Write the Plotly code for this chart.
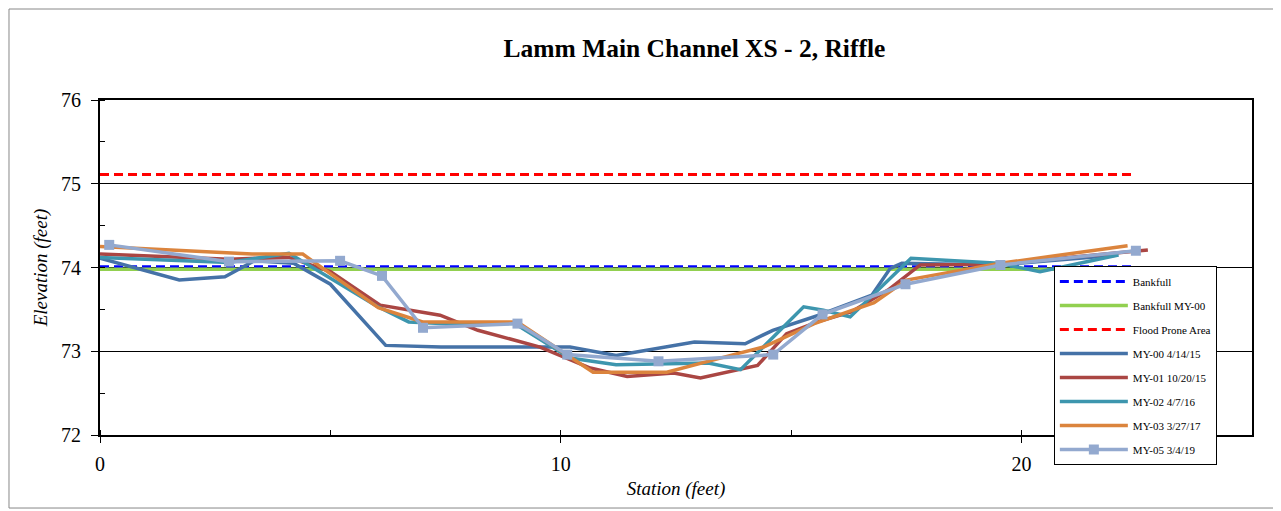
import plotly.graph_objects as go

# ---- data ----
bankfull_x = [0, 22.45]
bankfull_y = [74.01, 74.01]
bankfull_my00_x = [0, 22.45]
bankfull_my00_y = [73.98, 73.98]
flood_x = [0, 22.45]
flood_y = [75.11, 75.11]

my00_x = [0, 1.72, 2.71, 3.35, 4.2, 5.0, 6.2, 7.4, 10.2, 11.2, 12.9, 14.0, 14.6, 15.6, 16.75, 17.15, 17.4, 19.5, 22.1]
my00_y = [74.11, 73.85, 73.89, 74.08, 74.05, 73.80, 73.07, 73.05, 73.05, 72.95, 73.11, 73.09, 73.25, 73.43, 73.67, 73.99, 74.05, 74.03, 74.15]

my01_x = [0, 2.8, 4.1, 5.0, 6.08, 7.38, 8.2, 9.55, 10.64, 11.44, 12.45, 13.03, 14.27, 14.9, 15.57, 16.3, 17.1, 17.8, 19.5, 22.74]
my01_y = [74.16, 74.10, 74.12, 73.95, 73.55, 73.43, 73.25, 73.05, 72.80, 72.70, 72.74, 72.68, 72.83, 73.21, 73.35, 73.47, 73.73, 74.03, 74.04, 74.21]

my02_x = [0, 2.8, 4.1, 6.0, 6.7, 7.4, 9.0, 10.2, 11.2, 12.3, 13.2, 13.9, 15.27, 15.7, 16.28, 17.6, 19.5, 20.4, 22.1]
my02_y = [74.12, 74.06, 74.17, 73.54, 73.35, 73.33, 73.33, 72.92, 72.84, 72.85, 72.86, 72.78, 73.53, 73.49, 73.41, 74.11, 74.05, 73.95, 74.15]

my03_x = [0, 3.3, 4.4, 6.04, 7.0, 9.06, 10.7, 12.3, 13.75, 14.4, 15.5, 16.8, 17.5, 19.54, 22.3]
my03_y = [74.25, 74.16, 74.16, 73.52, 73.35, 73.35, 72.75, 72.75, 72.96, 73.05, 73.33, 73.58, 73.85, 74.05, 74.26]

my05_x = [0.2, 2.8, 5.21, 6.12, 7.01, 9.06, 10.14, 12.12, 14.61, 15.68, 17.48, 19.54, 22.48]
my05_y = [74.27, 74.07, 74.08, 73.90, 73.28, 73.33, 72.96, 72.88, 72.96, 73.44, 73.80, 74.03, 74.20]

names = ["Bankfull", "Bankfull MY-00", "Flood Prone Area",
         "MY-00 4/14/15", "MY-01 10/20/15", "MY-02 4/7/16", "MY-03 3/27/17", "MY-05 3/4/19"]

FONT = "Liberation Serif, Times New Roman, serif"

fig = go.Figure()
fig.add_trace(go.Scatter(x=bankfull_x, y=bankfull_y, mode="lines", name=names[0],
                         line=dict(color="#0000FF", width=3, dash="9px,5px"), legendgroup="a"))
fig.add_trace(go.Scatter(x=bankfull_my00_x, y=bankfull_my00_y, mode="lines", name=names[1],
                         line=dict(color="#92D050", width=3.5), legendgroup="b"))
fig.add_trace(go.Scatter(x=flood_x, y=flood_y, mode="lines", name=names[2],
                         line=dict(color="#FF0000", width=3, dash="9px,5px"), legendgroup="c"))

series = [(my00_x, my00_y, "#4572A7"), (my01_x, my01_y, "#AA4643"),
          (my02_x, my02_y, "#3D96AE"), (my03_x, my03_y, "#DB843D")]
for i, (xs, ys, c) in enumerate(series):
    fig.add_trace(go.Scatter(x=xs, y=ys, mode="lines", name=names[3 + i],
                             line=dict(color=c, width=3.5), legendgroup="g%d" % i))
fig.add_trace(go.Scatter(x=my05_x, y=my05_y, mode="lines+markers", name=names[7],
                         line=dict(color="#93A9CF", width=3.5),
                         marker=dict(symbol="square", size=10, color="#93A9CF"),
                         legendgroup="h"))

fig.update_layout(
    width=1273, height=503,
    margin=dict(l=92, r=29, t=92, b=76),
    paper_bgcolor="white", plot_bgcolor="white",
    font=dict(family=FONT, color="black"),
    title=dict(text="<b>Lamm Main Channel XS - 2, Riffle</b>", font=dict(size=25.5, family=FONT),
               x=0.516, xref="paper", xanchor="center", y=0.92, yanchor="middle"),
    showlegend=True,
    legend=dict(x=0.828, y=0.5045, xanchor="left", yanchor="top",
                bgcolor="white", bordercolor="black", borderwidth=1,
                font=dict(size=11, family=FONT), tracegroupgap=5,
                traceorder="grouped", itemwidth=68),
    shapes=[dict(type="rect", xref="paper", yref="paper",
                 x0=-0.0790, x1=1.0195, y0=-0.218, y1=1.2716,
                 line=dict(color="#888888", width=1), layer="below")],
)
fig.update_xaxes(range=[0, 25], dtick=10, tick0=0, showgrid=False, zeroline=False,
                 showline=True, linecolor="black", linewidth=2, mirror=True,
                 ticks="outside", ticklen=6, tickcolor="black", tickwidth=1,
                 ticklabelstandoff=4,
                 tickfont=dict(size=20, family=FONT),
                 minor=dict(dtick=5, ticks="inside", ticklen=5, tickcolor="black", showgrid=False),
                 title=dict(text="<i>Station (feet)</i>", font=dict(size=19, family=FONT), standoff=8))
fig.update_yaxes(range=[72, 76], dtick=1, tick0=72, showgrid=True, gridcolor="black", gridwidth=1,
                 zeroline=False,
                 showline=True, linecolor="black", linewidth=2, mirror=True,
                 ticks="outside", ticklen=7, tickcolor="black", tickwidth=1,
                 ticklabelstandoff=6,
                 tickfont=dict(size=20, family=FONT),
                 minor=dict(dtick=0.5, ticks="inside", ticklen=5, tickcolor="black", showgrid=False),
                 title=dict(text="<i>Elevation (feet)</i>", font=dict(size=19, family=FONT), standoff=8))

fig.write_html("out.html")
